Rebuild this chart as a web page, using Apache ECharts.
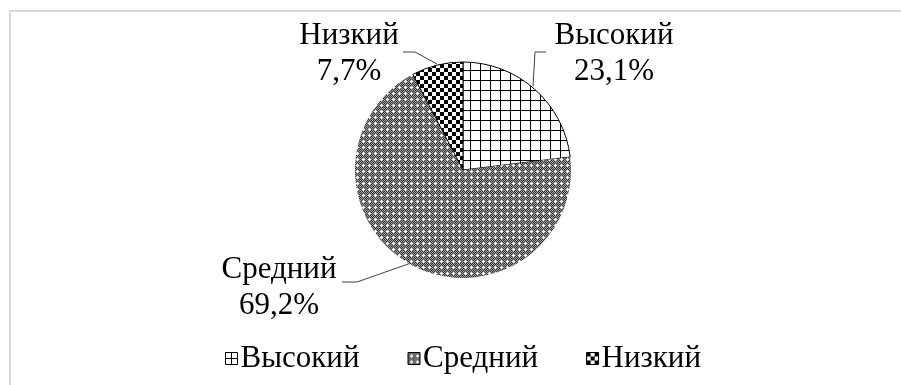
<!DOCTYPE html>
<html>
<head>
<meta charset="utf-8">
<script src="https://cdn.jsdelivr.net/npm/echarts@6/dist/echarts.min.js"></script>
<style>
  html, body { margin: 0; padding: 0; background: #fff; }
  #chart { width: 901px; height: 385px; }
</style>
</head>
<body>
<div id="chart"></div>
<script>
// Уровни и число респондентов в каждом
const categories = ['Высокий', 'Средний', 'Низкий'];
const counts = [3, 9, 1];

// Штриховки секторов, нарисованные на маленьких плитках canvas
function makeTile(size, draw) {
  const c = document.createElement('canvas');
  c.width = size; c.height = size;
  draw(c.getContext('2d'), size);
  return c;
}
const gridTile = makeTile(10, (g, s) => {
  g.fillStyle = '#fff'; g.fillRect(0, 0, s, s);
  g.fillStyle = '#000';
  g.fillRect(0, 0, s, 1);
  g.fillRect(0, 0, 1, s);
});
const dotTile = makeTile(6, (g, s) => {
  for (let y = 0; y < s; y++) {
    for (let x = 0; x < s; x++) {
      g.fillStyle = (x + y) % 2 ? '#3c3c3c' : '#9a9a9a';
      g.fillRect(x, y, 1, 1);
    }
  }
  g.fillStyle = '#fff';
  g.fillRect(3, 2, 1, 3);
  g.fillRect(2, 3, 3, 1);
});
const checkTile = makeTile(8, (g, s) => {
  g.fillStyle = '#fff'; g.fillRect(0, 0, s, s);
  g.fillStyle = '#000';
  g.fillRect(0, 0, 4, 4);
  g.fillRect(4, 4, 4, 4);
});
const patterns = [
  { image: gridTile, repeat: 'repeat' },
  { image: dotTile, repeat: 'repeat' },
  { image: checkTile, repeat: 'repeat' }
];

// Значки легенды: квадрат с крестом, серый квадрат, шахматка
const legendIcons = [
  { icon: 'path://M0,0H12V12H0Z M6,0V12 M0,6H12', itemStyle: { color: '#fff', borderColor: '#000', borderWidth: 1 } },
  { icon: 'rect', itemStyle: { color: patterns[1], borderColor: '#000', borderWidth: 1 } },
  { icon: 'rect', itemStyle: { color: patterns[2], borderColor: '#000', borderWidth: 1 } }
];

// Положение подписей и выносок
const labelSpots = [
  { x: 614, y: 54, line: [[533, 86], [535, 52], [546, 52]] },
  { x: 279, y: 288, line: [[411, 263], [357, 282], [342, 282]] },
  { x: 349, y: 54, line: [[437, 64], [415, 52], [403, 52]] }
];

const total = counts.reduce((a, b) => a + b, 0);
const font = '"Liberation Serif", "Times New Roman", serif';

const chart = echarts.init(document.getElementById('chart'), null, { renderer: 'canvas' });
chart.setOption({
  animation: false,
  backgroundColor: '#fff',
  graphic: [{
    type: 'rect',
    shape: { x: 10, y: 11, width: 900, height: 390 },
    style: { fill: 'none', stroke: '#d9d9d9', lineWidth: 2 },
    silent: true
  }],
  legend: {
    data: categories.map((name, i) => Object.assign({ name }, legendIcons[i])),
    left: 220,
    top: 338,
    itemWidth: 12,
    itemHeight: 12,
    itemGap: 48,
    textStyle: { fontFamily: font, fontSize: 31, color: '#000', padding: [0, 0, 0, -2] }
  },
  series: [{
    type: 'pie',
    center: [463, 170],
    radius: 108,
    startAngle: 90,
    clockwise: true,
    data: categories.map((name, i) => ({
      name,
      value: counts[i],
      itemStyle: {
        color: patterns[i],
        borderColor: i === 1 ? 'rgba(0,0,0,0)' : '#000',
        borderWidth: i === 1 ? 0 : 1
      }
    })),
    label: {
      show: true,
      fontFamily: font,
      fontSize: 31,
      lineHeight: 36,
      color: '#000',
      align: 'center',
      formatter: p => p.name + '\n' + (p.value / total * 100).toFixed(1).replace('.', ',') + '%'
    },
    labelLine: { show: true, lineStyle: { color: '#404040', width: 1 } },
    labelLayout: p => {
      const s = labelSpots[p.dataIndex];
      return { x: s.x, y: s.y, align: 'center', verticalAlign: 'middle', labelLinePoints: s.line };
    },
    emphasis: { disabled: true }
  }]
});
</script>
</body>
</html>
